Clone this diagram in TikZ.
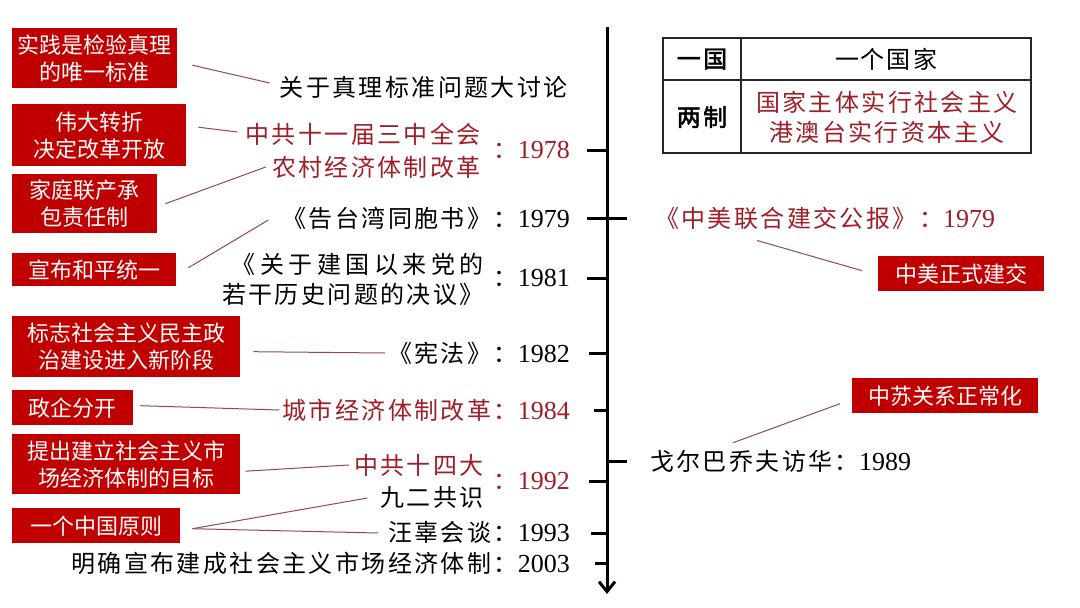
\documentclass[tikz,border=0pt]{standalone}
\usepackage{fontspec}
\setmainfont{Liberation Serif}
\newfontfamily\cjk[LetterSpace=10]{Noto Sans CJK SC}
\newfontfamily\cjkbox{Noto Sans CJK SC}
\newfontfamily\cjkb[LetterSpace=10,FakeBold=2]{Noto Sans CJK SC}
\newcommand\yr[1]{{\fontsize{26}{30}\selectfont #1}}
\usetikzlibrary{arrows.meta}
\definecolor{boxred}{RGB}{192,0,0}
\definecolor{txtred}{RGB}{160,30,40}
\definecolor{linkc}{RGB}{150,70,85}
\tikzset{
  rbox/.style={fill=boxred, text=white, font=\cjkbox\fontsize{22}{27}\selectfont, align=center, inner sep=0pt, anchor=north west},
  lbl/.style={inner sep=0pt, font=\fontsize{24}{30}\selectfont},
  redtxt/.style={text=txtred},
  link/.style={draw=linkc, line width=1pt},
  axis/.style={line width=3pt, black},
  tickmark/.style={line width=3pt, black},
  tbl/.style={line width=1.2pt, black!85}
}
\begin{document}
\begin{tikzpicture}[x=1pt,y=-1pt]
\fill[white] (0,0) rectangle (1080,608);
\useasboundingbox (0,0) rectangle (1080,608);

% timeline
\coordinate (axtop) at (607,27);
\coordinate (axbot) at (607,594);
\draw[axis,-{Straight Barb[length=10pt,width=16pt]}] (axtop) -- (axbot);
\foreach \y/\a/\b in {150/587/607, 218/587/627, 278/587/607, 353/589/607, 410/594/607, 461/607/627, 481/589/607, 533/591/607, 563/595/607}
  \draw[tickmark] (\a,\y) -- (\b,\y);

% red boxes left
\node[rbox, minimum width=165pt, minimum height=60pt] (b1) at (12,28) {实践是检验真理\\的唯一标准};
\node[rbox, minimum width=174pt, minimum height=62pt] (b2) at (12,104) {伟大转折\\决定改革开放};
\node[rbox, minimum width=145pt, minimum height=59pt] (b3) at (12,174) {家庭联产承\\包责任制};
\node[rbox, minimum width=164pt, minimum height=33pt] (b4) at (12,253) {宣布和平统一};
\node[rbox, minimum width=228pt, minimum height=61pt] (b5) at (12,316) {标志社会主义民主政\\治建设进入新阶段};
\node[rbox, minimum width=121pt, minimum height=35pt] (b6) at (12,390) {政企分开};
\node[rbox, minimum width=228pt, minimum height=60pt] (b7) at (12,434) {提出建立社会主义市\\场经济体制的目标};
\node[rbox, minimum width=168pt, minimum height=35pt] (b8) at (12,508) {一个中国原则};
% red boxes right
\node[rbox, minimum width=166pt, minimum height=35pt] (rb1) at (878,256) {中美正式建交};
\node[rbox, minimum width=186pt, minimum height=35pt] (rb2) at (852,378) {中苏关系正常化};

% timeline labels
\node[lbl, anchor=east] (t1) at (568,87) {\cjk 关于真理标准问题大讨论};
\node[lbl, redtxt, anchor=east] (t2a) at (481,134) {\cjk 中共十一届三中全会};
\node[lbl, redtxt, anchor=east] (t2b) at (481,167) {\cjk 农村经济体制改革};
\node[lbl, redtxt, anchor=east] (t2c) at (570,150) {{\cjk ：}\yr{1978}};
\node[lbl, anchor=east] (t3) at (570,218) {{\cjk 《告台湾同胞书》：}\yr{1979}};
\node[lbl, anchor=east] (t4a) at (484,264) {\cjk\makebox[252pt][s]{《\hfil 关\hfil 于\hfil 建\hfil 国\hfil 以\hfil 来\hfil 党\hfil 的}};
\node[lbl, anchor=east] (t4b) at (484,294) {\cjk 若干历史问题的决议》};
\node[lbl, anchor=east] (t4c) at (570,278) {{\cjk ：}\yr{1981}};
\node[lbl, anchor=east] (t5) at (570,353) {{\cjk 《宪法》：}\yr{1982}};
\node[lbl, redtxt, anchor=east] (t6) at (570,410) {{\cjk 城市经济体制改革：}\yr{1984}};
\node[lbl, redtxt, anchor=east] (t7a) at (484,465) {\cjk 中共十四大};
\node[lbl, redtxt, anchor=east] (t7c) at (570,481) {{\cjk ：}\yr{1992}};
\node[lbl, anchor=east] (t7b) at (484,497) {\cjk 九二共识};
\node[lbl, anchor=east] (t8) at (570,532) {{\cjk 汪辜会谈：}\yr{1993}};
\node[lbl, anchor=east] (t9) at (570,563) {{\cjk 明确宣布建成社会主义市场经济体制：}\yr{2003}};
\node[lbl, redtxt, anchor=west] (tr1) at (655,218) {{\cjk 《中美联合建交公报》：}\yr{1979}};
\node[lbl, anchor=west] (tr2) at (650,461) {{\cjk 戈尔巴乔夫访华：}\yr{1989}};

% table
\draw[tbl] (663,38) rectangle (1031,153);
\draw[tbl] (663,80) -- (1031,80);
\draw[tbl] (741,38) -- (741,153);
\node[lbl] (c11) at (702,59) {\cjkb 一国};
\node[lbl] (c12) at (886,59) {\cjk 一\hspace{2pt}个\hspace{2pt}国\hspace{2pt}家};
\node[lbl] (c21) at (702,117) {\cjkb 两制};
\node[lbl, redtxt, align=center, font=\fontsize{24}{30}\selectfont] (c22) at (887,117) {\cjk 国家主体实行社会主义\\\cjk 港澳台实行资本主义};

% connectors
\draw[link] ([xshift=15pt,yshift=-7pt]b1.east) -- ([xshift=-10pt,yshift=4pt]t1.west);
\draw[link] ([xshift=12pt,yshift=8pt]b2.east) -- ([xshift=-8pt,yshift=2pt]t2a.west);
\draw[link] ([xshift=8pt]b3.east) -- ([xshift=-6pt]t2b.west);
\draw[link] ([xshift=12pt,yshift=2pt]b4.east) -- ([xshift=-14pt,yshift=-2pt]t3.west);
\draw[link] ([xshift=13pt,yshift=-5pt]b5.east) -- ([xshift=-3pt]t5.west);
\draw[link] ([xshift=7pt,yshift=2pt]b6.east) -- ([xshift=-3pt]t6.west);
\draw[link] ([xshift=5pt,yshift=-7pt]b7.east) -- ([xshift=-5pt]t7a.west);
\draw[link] ([xshift=12pt,yshift=-3pt]b8.east) -- ([xshift=-13pt,yshift=-1pt]t7b.west);
\draw[link] ([xshift=12pt,yshift=-3pt]b8.east) -- ([xshift=-10pt,yshift=-1pt]t8.west);
\draw[link] ([xshift=102pt,yshift=-11pt]tr1.south west) -- ([xshift=-16pt,yshift=3pt]rb1.west);
\draw[link] ([xshift=83pt,yshift=7pt]tr2.north west) -- ([xshift=-12pt,yshift=-8pt]rb2.west);
\end{tikzpicture}
\end{document}
